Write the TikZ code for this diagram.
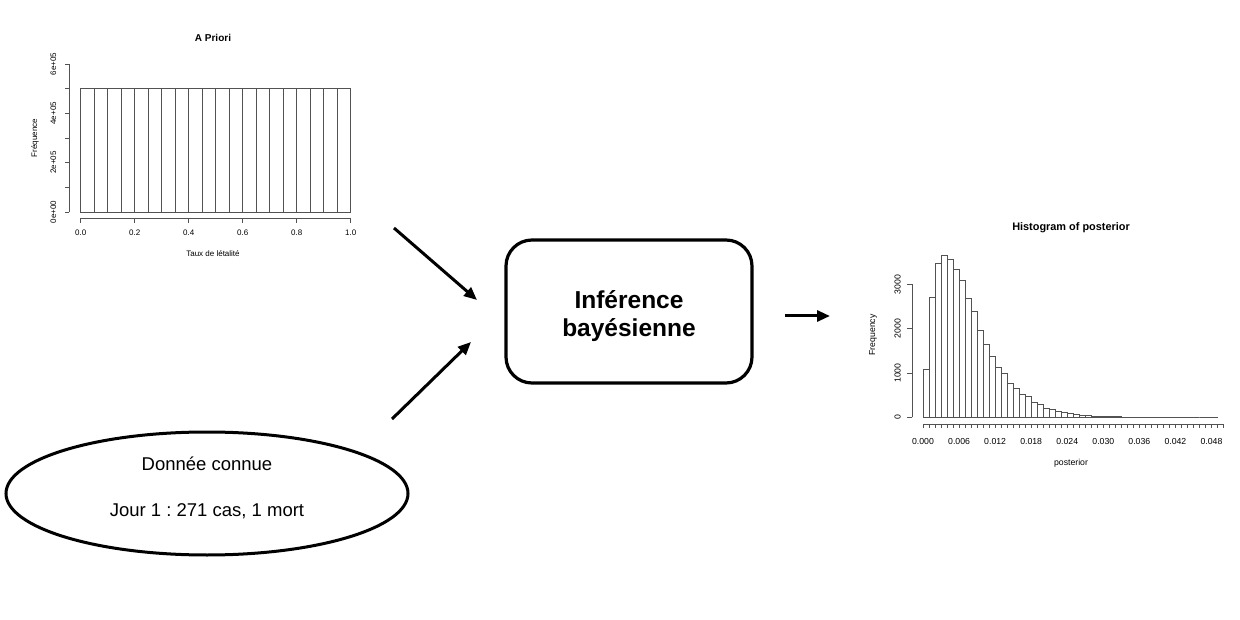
\documentclass[tikz,border=0pt]{standalone}
\usepackage{fontspec}
\setmainfont{Liberation Sans}
\usetikzlibrary{arrows.meta,shapes.geometric}
\tikzset{
  histbar/.style={draw=black!68, line width=0.8pt, fill=white},
  axisline/.style={draw=black!68, line width=0.8pt},
  ticklab/.style={font=\fontsize{8}{9}\selectfont, inner sep=0pt},
  ticklabp/.style={font=\fontsize{8.7}{10}\selectfont, inner sep=0pt},
  plottitle/.style={font=\bfseries\fontsize{10}{12}\selectfont, inner sep=0pt},
  plottitlep/.style={font=\bfseries\fontsize{10.9}{13}\selectfont, inner sep=0pt},
  infbox/.style={draw, line width=3.2pt, rounded corners=26pt, minimum width=246pt, minimum height=143pt, inner sep=0pt},
  inftext/.style={font=\bfseries\fontsize{24.5}{28}\selectfont, inner sep=0pt, anchor=base},
  dataell/.style={draw, ellipse, line width=3pt, minimum width=402pt, minimum height=123pt, inner sep=0pt},
  datatext/.style={font=\fontsize{18.5}{22}\selectfont, inner sep=0pt, anchor=base},
  flow/.style={line width=3pt, -{Triangle[length=13pt,width=11pt]}},
}
\frenchspacing
\begin{document}
\begin{tikzpicture}[x=1pt,y=-1pt]
\useasboundingbox[fill=white] (0,0) rectangle (1240,620);

% ---------- Prior histogram ----------
\node[plottitle] (ptitle) at (213,38) {A Priori};
\foreach \i in {0,...,19}
  \draw[histbar] ({80.7+\i*13.5},212) rectangle ++(13.5,-123.5);
% y axis
\draw[axisline] (69.3,212) -- (69.3,64);
\foreach \k in {0,...,6}
  \draw[axisline] (69.3,{212-\k*24.67}) -- ++(-4.5,0);
\foreach \k/\lab in {0/0e+00,2/2e+05,4/4e+05,6/6e+05}
  \node[ticklab, rotate=90] (py\k) at (53.3,{212-\k*24.67}) {\lab};
% x axis
\draw[axisline] (80.7,218.3) -- (350.7,218.3);
\foreach \k/\lab in {0/0.0,1/0.2,2/0.4,3/0.6,4/0.8,5/1.0}{
  \draw[axisline] ({80.7+\k*54},218.3) -- ++(0,4.4);
  \node[ticklab] (px\k) at ({80.7+\k*54},232.3) {\lab};
}
\node[ticklab] (pxlab) at (213,253.3) {Taux de létalité};
\node[ticklab, rotate=90] (pylab) at (35,138) {Fréquence};

% ---------- Posterior histogram ----------
\node[plottitlep] (qtitle) at (1071,228) {Histogram of posterior};
\foreach \f [count=\i] in {1090,2709,3483,3657,3567,3341,3085,2694,2393,1956,1648,1384,1121,993,760,647,527,467,346,293,211,188,135,105,85,65,48,38,28,22,18,14,12,9,7,5,4,8,3,2,2,1,1,1,1,0,0,1,1}
  \draw[histbar] ({923+(\i-1)*6.01},417.3) rectangle ++(6.01,{-\f*0.0443});
% y axis
\draw[axisline] (912,417.3) -- (912,284.4);
\foreach \k/\lab in {0/0,1/1000,2/2000,3/3000}{
  \draw[axisline] (912,{417.3-\k*44.3}) -- ++(-5,0);
  \node[ticklabp, rotate=90] (qy\k) at (897.7,{417.3-\k*44.3}) {\lab};
}
% x axis
\draw[axisline] (923,424) -- ({923+50*6.01},424);
\foreach \k in {0,...,50}
  \draw[axisline] ({923+\k*6.01},424) -- ++(0,4.4);
\foreach \k/\lab in {0/0.000,1/0.006,2/0.012,3/0.018,4/0.024,5/0.030,6/0.036,7/0.042,8/0.048}
  \node[ticklabp] (qx\k) at ({923+\k*6*6.01},442) {\lab};
\node[ticklabp] (qxlab) at (1071,463) {posterior};
\node[ticklabp, rotate=90] (qylab) at (873,335) {Frequency};

% ---------- Inference box ----------
\node[infbox] (inf) at (629,311.5) {};
\node[inftext] (inf1) at (629,308.3) {Inférence};
\node[inftext] (inf2) at (629,336.7) {bayésienne};

% ---------- Data ellipse ----------
\node[dataell] (data) at (207,493.5) {};
\node[datatext] (data1) at (207,470) {Donnée connue};
\node[datatext] (data2) at (207,516.7) {Jour 1 : 271 cas, 1 mort};

% ---------- Arrows ----------
\coordinate (a1s) at (394,228);
\coordinate (a1e) at (477,300);
\coordinate (a2s) at (392,419);
\coordinate (a2e) at (471,342);
\coordinate (a3s) at (785,316);
\coordinate (a3e) at (830,316);
\draw[flow] (a1s) -- (a1e);
\draw[flow] (a2s) -- (a2e);
\draw[flow] (a3s) -- (a3e);
\end{tikzpicture}
\end{document}
